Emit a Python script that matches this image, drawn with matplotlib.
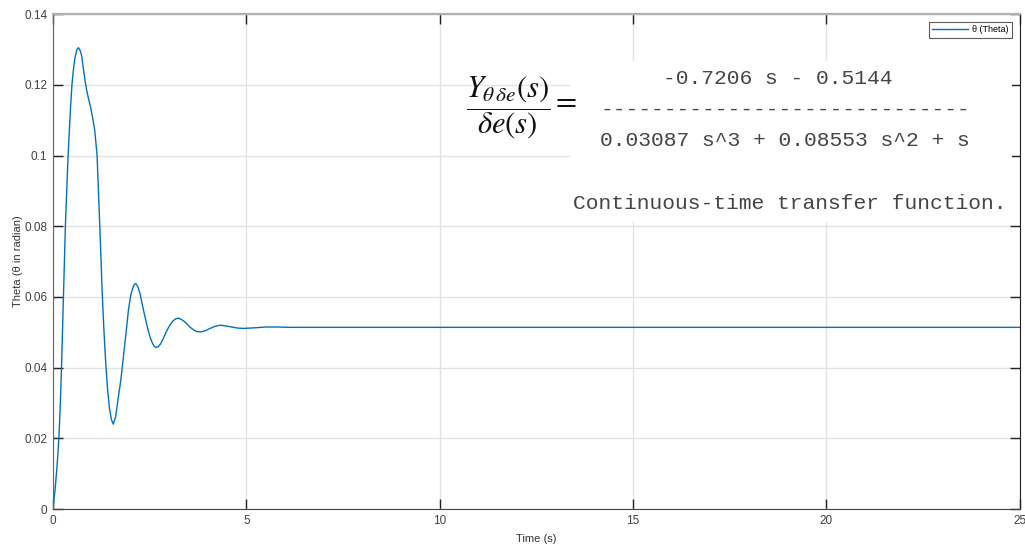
import matplotlib
matplotlib.use("Agg")
import matplotlib.pyplot as plt
from matplotlib.patches import Rectangle

plt.rcParams['font.family'] = ['Liberation Sans', 'DejaVu Sans']
plt.rcParams['mathtext.fontset'] = 'stix'

# pitch angle response
time_s = [0, 0.05, 0.10, 0.13, 0.16, 0.19, 0.22, 0.27, 0.32, 0.39, 0.45, 0.49,
          0.53, 0.57, 0.62, 0.66, 0.70, 0.74, 0.78, 0.83, 0.87, 0.91, 0.97,
          1.03, 1.08, 1.14, 1.21, 1.27, 1.31, 1.36, 1.41, 1.46, 1.51, 1.56,
          1.62, 1.69, 1.76, 1.82, 1.89, 1.95, 2.01, 2.06, 2.10, 2.14, 2.19,
          2.25, 2.31, 2.38, 2.45, 2.51, 2.56, 2.61, 2.66, 2.72, 2.78, 2.85,
          2.93, 3.02, 3.10, 3.17, 3.24, 3.31, 3.39, 3.46, 3.55, 3.63, 3.72,
          3.82, 3.93, 4.06, 4.19, 4.32, 4.47, 4.62, 4.77, 4.92, 5.10, 5.27,
          5.50, 5.80, 6.13, 7.00, 25.0]
theta = [0, 0.005, 0.0115, 0.016, 0.022, 0.030, 0.040, 0.060, 0.080, 0.100,
         0.113, 0.120, 0.1245, 0.1278, 0.1300, 0.1305, 0.1298, 0.1283, 0.1250,
         0.1212, 0.1185, 0.1165, 0.1138, 0.1104, 0.1071, 0.100, 0.080, 0.062,
         0.052, 0.042, 0.034, 0.0285, 0.0253, 0.0240, 0.0262, 0.0317, 0.037,
         0.0430, 0.050, 0.0562, 0.0605, 0.0624, 0.0635, 0.0638, 0.0630, 0.0610,
         0.0578, 0.0543, 0.0510, 0.0487, 0.0472, 0.0461, 0.0457, 0.0459,
         0.0467, 0.0482, 0.0502, 0.0520, 0.0532, 0.0538, 0.0540, 0.0537,
         0.0531, 0.0524, 0.0514, 0.0507, 0.0502, 0.0501, 0.0504, 0.0511,
         0.0517, 0.0520, 0.0518, 0.0515, 0.0512, 0.0511, 0.0512, 0.0513,
         0.0515, 0.0515, 0.0514, 0.0514, 0.0514]

x_ticks = [0, 5, 10, 15, 20, 25]
y_ticks = [0, 0.02, 0.04, 0.06, 0.08, 0.1, 0.12, 0.14]
y_tick_labels = ['0', '0.02', '0.04', '0.06', '0.08', '0.1', '0.12', '0.14']

tf_num = '-0.7206 s - 0.5144'
tf_den = '0.03087 s^3 + 0.08553 s^2 + s'
tf_note = 'Continuous-time transfer function.'

fig = plt.figure(figsize=(10.25, 5.45), dpi=100)
ax = fig.add_axes([0.0517, 0.066, 0.9433, 0.908])

ax.plot(time_s, theta, color='#0072BD', lw=1.0, label='θ (Theta)')
ax.set_xlim(0, 25)
ax.set_ylim(0, 0.14)
ax.set_xticks(x_ticks)
ax.set_yticks(y_ticks)
ax.set_yticklabels(y_tick_labels)
ax.grid(True, color='#e3e3e3', lw=1.0)
ax.set_axisbelow(True)
ax.tick_params(direction='in', length=7, width=1.0, top=True, right=True,
               labelsize=8.5, colors='#222222', labelcolor='#404040', pad=4)
ax.set_xlabel('Time (s)', fontsize=8, color='#333333', labelpad=5)
ax.set_ylabel('Theta (θ in radian)', fontsize=8, color='#333333', labelpad=1)

ax.spines['top'].set_color('#b0b0b0')
ax.spines['top'].set_linewidth(1.6)
ax.spines['left'].set_color('#666666')
ax.spines['bottom'].set_color('#444444')
ax.spines['right'].set_color('#222222')

leg = ax.legend(loc='upper right', fontsize=6.5, frameon=True, fancybox=False,
                borderpad=0.35, handlelength=4.0, handletextpad=0.4,
                borderaxespad=0.9)
leg.get_frame().set_edgecolor('#333333')
leg.get_frame().set_linewidth(0.8)

# transfer function printout pasted over the upper right of the plot
fig.add_artist(Rectangle((570 / 1025, 1 - 222 / 545), 442 / 1025, 161 / 545,
                         transform=fig.transFigure, facecolor='white',
                         edgecolor='none', zorder=5))
fig.text(508 / 1025, 1 - 108 / 545,
         r'$\dfrac{Y_{\theta\,\delta e}(s)}{\delta e(s)}$',
         fontsize=22, ha='center', va='center', color='#111111', zorder=6)
fig.text(566 / 1025, 1 - 104 / 545, '=', fontsize=22, ha='center',
         va='center', color='#111111', zorder=6, family='STIXGeneral')
mono = dict(family='Liberation Mono', fontsize=15.3, color='#444444', zorder=6)
fig.text(778 / 1025, 1 - 78 / 545, tf_num, ha='center', va='center', **mono)
fig.text(785 / 1025, 1 - 109 / 545, '-' * len(tf_den), ha='center',
         va='center', **mono)
fig.text(785 / 1025, 1 - 141 / 545, tf_den, ha='center', va='center', **mono)
fig.text(790 / 1025, 1 - 203 / 545, tf_note, ha='center', va='center', **mono)

fig.savefig('out.png', dpi=100)
